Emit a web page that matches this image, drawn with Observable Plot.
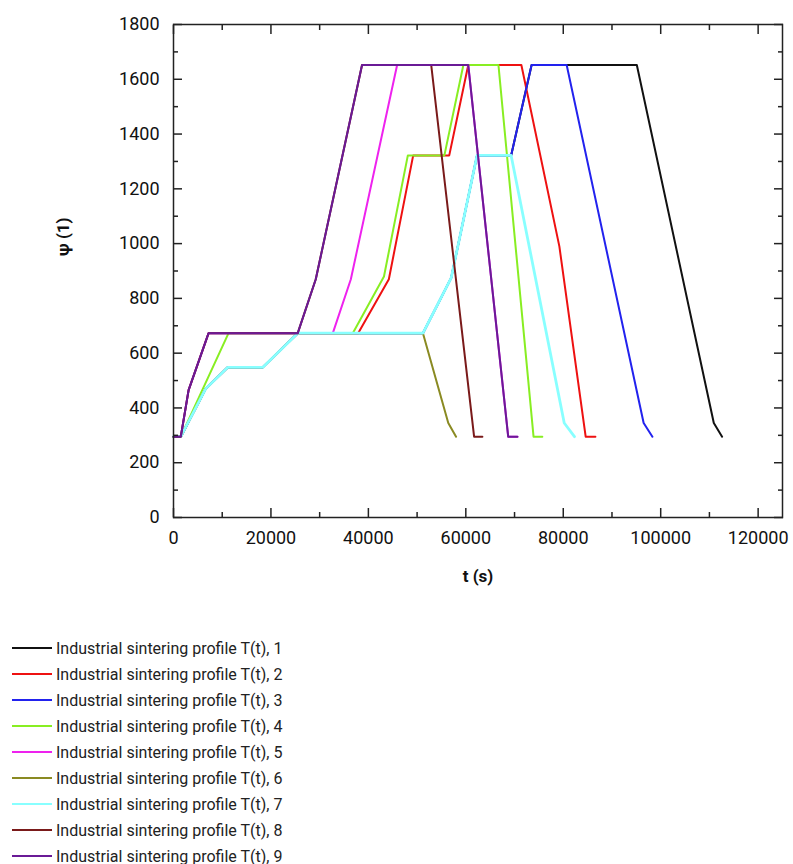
<!DOCTYPE html>
<html><head><meta charset="utf-8">
<script src="https://cdn.jsdelivr.net/npm/d3@7"></script>
<script src="https://cdn.jsdelivr.net/npm/@observablehq/plot@0.6"></script>
<style>
body{margin:0;background:#fff;font-family:Roboto,sans-serif;}
#legend{margin-left:12px;margin-top:35px}
.row{display:flex;align-items:center;height:26px;font-size:16px;color:#222;white-space:nowrap}
.sw{width:40px;height:2px;margin-right:4px}
</style></head><body>
<div id="chart"></div><div id="legend"></div>
<script>
const seriesNames = [
  "Industrial sintering profile T(t), 1","Industrial sintering profile T(t), 2","Industrial sintering profile T(t), 3",
  "Industrial sintering profile T(t), 4","Industrial sintering profile T(t), 5","Industrial sintering profile T(t), 6",
  "Industrial sintering profile T(t), 7","Industrial sintering profile T(t), 8","Industrial sintering profile T(t), 9"];
const seriesColors = ["#111111","#ee1111","#2222ee","#88ee22","#ee22ee","#8a8a22","#88ffff","#7a1a1a","#6a1a96"];
const seriesWidths = [2,2,2,2,2,2,2.8,2,2];

const t1 = [0,1500,6600,11100,18300,25500,51200,57000,62300,69300,73500,95100,110900,112600];
const psi1 = [295,295,470,548,548,673,673,875,1322,1322,1652,1652,345,295];
const t2 = [0,1500,6600,11100,18300,25500,37900,44200,49200,56600,60500,71400,79200,84600,86600];
const psi2 = [295,295,470,548,548,673,673,870,1322,1322,1652,1652,990,295,295];
const t3 = [0,1500,6600,11100,18300,25500,51200,57000,62300,69300,73500,80700,96500,98300];
const psi3 = [295,295,470,548,548,673,673,875,1322,1322,1652,1652,345,295];
const t4 = [0,1500,11300,36800,43200,48100,55600,59500,66700,73900,75700];
const psi4 = [295,295,673,673,880,1322,1322,1652,1652,295,295];
const t5 = [0,1500,3100,7200,32700,36400,45900,60500,68700,70600];
const psi5 = [295,295,465,673,673,870,1652,1652,295,295];
const t6 = [0,1500,6600,11100,18300,25500,51200,56400,58000];
const psi6 = [295,295,470,548,548,673,673,345,295];
const t7 = [0,1500,6600,11100,18300,25500,51200,57000,62300,69300,80200,82300];
const psi7 = [295,295,470,548,548,673,673,875,1322,1322,345,295];
const t8 = [0,1500,3100,7200,25500,29200,38700,52900,61700,63400];
const psi8 = [295,295,465,673,673,870,1652,1652,295,295];
const t9 = [0,1500,3100,7200,25500,29200,38700,60500,68700,70600];
const psi9 = [295,295,465,673,673,870,1652,1652,295,295];

const xMajor = [0,20000,40000,60000,80000,100000,120000];
const xMinor = [10000,30000,50000,70000,90000,110000];
const yMajor = [0,200,400,600,800,1000,1200,1400,1600,1800];
const yMinor = [100,300,500,700,900,1100,1300,1500,1700];

const ts = [t1,t2,t3,t4,t5,t6,t7,t8,t9];
const ps = [psi1,psi2,psi3,psi4,psi5,psi6,psi7,psi8,psi9];
const lineMarks = ts.map((t, i) => Plot.line(t.map((v, j) => ({t: v, psi: ps[i][j]})),
  {x: "t", y: "psi", stroke: seriesColors[i], strokeWidth: seriesWidths[i], strokeLinejoin: "round"}));

const tickAxes = [];
for (const anchor of ["bottom","top"]) {
  tickAxes.push(Plot.axisX({ticks: xMajor, anchor, tickSize: -9, tickFormat: () => "", label: null, stroke: "#222", strokeWidth: 1.5}));
  tickAxes.push(Plot.axisX({ticks: xMinor, anchor, tickSize: -5, tickFormat: () => "", label: null, stroke: "#222", strokeWidth: 1.5}));
}
for (const anchor of ["left","right"]) {
  tickAxes.push(Plot.axisY({ticks: yMajor, anchor, tickSize: -9, tickFormat: () => "", label: null, stroke: "#222", strokeWidth: 1.5}));
  tickAxes.push(Plot.axisY({ticks: yMinor, anchor, tickSize: -5, tickFormat: () => "", label: null, stroke: "#222", strokeWidth: 1.5}));
}

const chart = Plot.plot({
  width: 793, height: 600,
  marginLeft: 173, marginRight: 11, marginTop: 24, marginBottom: 83,
  style: {fontFamily: "Roboto, sans-serif", fontSize: "18px", color: "#111", background: "#fff"},
  x: {domain: [0, 125000]},
  y: {domain: [0, 1800]},
  marks: [
    ...lineMarks,
    Plot.frame({stroke: "#222", strokeWidth: 1.5}),
    ...tickAxes,
    Plot.axisX({ticks: xMajor, anchor: "bottom", tickSize: 0, tickPadding: 14, tickFormat: d3.format("d"), label: null}),
    Plot.axisY({ticks: yMajor, anchor: "left", tickSize: 0, tickPadding: 14, tickFormat: d3.format("d"), label: null}),
    Plot.text(["t (s)"], {text: d => d, frameAnchor: "bottom", dy: 64, fontWeight: "bold", fontSize: 17}),
    Plot.text(["ψ (1)"], {text: d => d, frameAnchor: "left", dx: -110, dy: -15, rotate: -90, fontWeight: "bold", fontSize: 17})
  ]
});
document.getElementById("chart").appendChild(chart);

const legend = document.getElementById("legend");
seriesNames.forEach((name, i) => {
  const row = document.createElement("div");
  row.className = "row";
  const sw = document.createElement("div");
  sw.className = "sw";
  sw.style.background = seriesColors[i];
  const tx = document.createElement("span");
  tx.textContent = name;
  row.appendChild(sw); row.appendChild(tx);
  legend.appendChild(row);
});
</script></body></html>
